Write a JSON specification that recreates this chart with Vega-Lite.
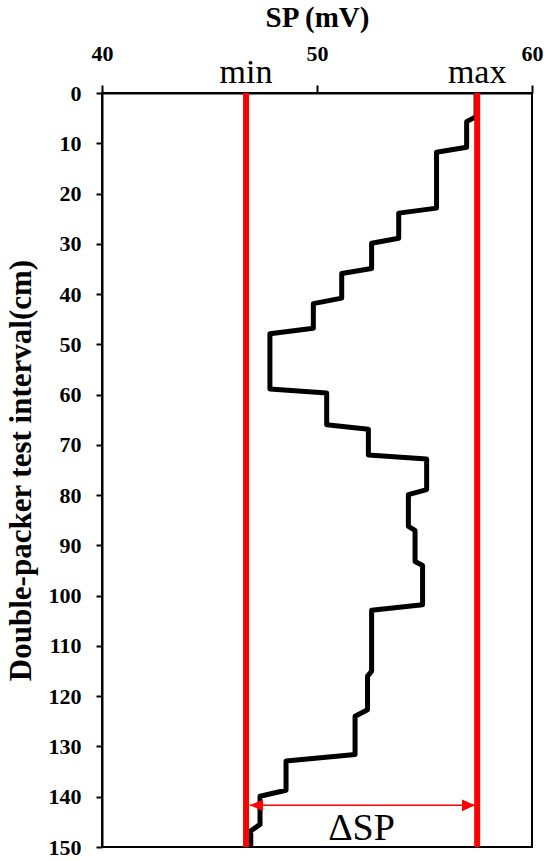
{
  "$schema": "https://vega.github.io/schema/vega-lite/v6.json",
  "autosize": "none",
  "width": 430,
  "height": 754,
  "padding": {"left": 102, "top": 93, "right": 18, "bottom": 14},
  "background": "white",
  "config": {
    "view": {"stroke": "black", "strokeWidth": 2},
    "axis": {
      "domainColor": "black", "domainWidth": 2, "tickColor": "black", "tickWidth": 2,
      "labelColor": "black", "titleColor": "black", "grid": false,
      "labelFont": "Liberation Serif", "labelFontWeight": "bold", "labelFontSize": 22,
      "titleFont": "Liberation Serif", "titleFontWeight": "bold", "titleFontSize": 30
    }
  },
  "datasets": {
    "profile": [
      {"i": 1, "depth": 0, "sp": 57.4},
      {"i": 2, "depth": 4.7, "sp": 57.4},
      {"i": 3, "depth": 5.7, "sp": 56.96},
      {"i": 4, "depth": 10.8, "sp": 56.96},
      {"i": 5, "depth": 11.8, "sp": 55.56},
      {"i": 6, "depth": 22.9, "sp": 55.56},
      {"i": 7, "depth": 23.9, "sp": 53.8},
      {"i": 8, "depth": 28.9, "sp": 53.8},
      {"i": 9, "depth": 29.9, "sp": 52.54},
      {"i": 10, "depth": 34.9, "sp": 52.54},
      {"i": 11, "depth": 35.9, "sp": 51.15},
      {"i": 12, "depth": 40.8, "sp": 51.15},
      {"i": 13, "depth": 41.9, "sp": 49.83},
      {"i": 14, "depth": 46.8, "sp": 49.83},
      {"i": 15, "depth": 47.9, "sp": 47.81},
      {"i": 16, "depth": 58.9, "sp": 47.81},
      {"i": 17, "depth": 59.7, "sp": 50.45},
      {"i": 18, "depth": 66.0, "sp": 50.45},
      {"i": 19, "depth": 66.9, "sp": 52.39},
      {"i": 20, "depth": 72.0, "sp": 52.39},
      {"i": 21, "depth": 72.8, "sp": 55.1},
      {"i": 22, "depth": 78.9, "sp": 55.1},
      {"i": 23, "depth": 79.9, "sp": 54.25},
      {"i": 24, "depth": 86.2, "sp": 54.25},
      {"i": 25, "depth": 87.0, "sp": 54.56},
      {"i": 26, "depth": 93.2, "sp": 54.56},
      {"i": 27, "depth": 94.0, "sp": 54.91},
      {"i": 28, "depth": 101.8, "sp": 54.91},
      {"i": 29, "depth": 102.9, "sp": 52.54},
      {"i": 30, "depth": 115.0, "sp": 52.54},
      {"i": 31, "depth": 116.0, "sp": 52.35},
      {"i": 32, "depth": 122.7, "sp": 52.35},
      {"i": 33, "depth": 124.0, "sp": 51.77},
      {"i": 34, "depth": 131.6, "sp": 51.77},
      {"i": 35, "depth": 132.9, "sp": 48.56},
      {"i": 36, "depth": 138.7, "sp": 48.56},
      {"i": 37, "depth": 139.9, "sp": 47.35},
      {"i": 38, "depth": 145.5, "sp": 47.35},
      {"i": 39, "depth": 146.8, "sp": 46.92},
      {"i": 40, "depth": 150, "sp": 46.92}
    ],
    "bounds": [
      {"label": "min", "sp": 46.7, "depth": 0},
      {"label": "max", "sp": 57.45, "depth": 0}
    ],
    "delta": [
      {"label": "ΔSP", "x1": 46.88, "x2": 57.35, "mid": 52.07, "depth": 141.7, "textDepth": 148.6}
    ]
  },
  "layer": [
    {
      "data": {"name": "profile"},
      "mark": {"type": "line", "color": "black", "strokeWidth": 5, "strokeJoin": "round", "clip": true},
      "encoding": {
        "x": {
          "field": "sp", "type": "quantitative",
          "scale": {"domain": [40, 60], "nice": false, "zero": false},
          "axis": {
            "orient": "top", "title": "SP (mV)", "titleFontSize": 29, "values": [40, 50, 60],
            "tickSize": 8, "labelPadding": 20, "titlePadding": 10, "labelFlush": false
          }
        },
        "y": {
          "field": "depth", "type": "quantitative",
          "scale": {"domain": [0, 150], "reverse": true, "nice": false},
          "axis": {
            "title": "Double-packer test interval(cm)", "titleFontSize": 31, "values": [0,10,20,30,40,50,60,70,80,90,100,110,120,130,140,150],
            "tickSize": 6, "labelPadding": 15, "titlePadding": 11, "labelFlush": false
          }
        },
        "order": {"field": "i", "type": "quantitative"}
      }
    },
    {
      "data": {"name": "bounds"},
      "mark": {"type": "rule", "color": "#ff0000", "strokeWidth": 6},
      "encoding": {"x": {"field": "sp", "type": "quantitative"}}
    },
    {
      "data": {"name": "bounds"},
      "mark": {"type": "text", "font": "Liberation Serif", "fontSize": 34, "baseline": "alphabetic", "align": "center", "dy": -10, "color": "black"},
      "encoding": {
        "x": {"field": "sp", "type": "quantitative"},
        "y": {"field": "depth", "type": "quantitative"},
        "text": {"field": "label"}
      }
    },
    {
      "data": {"name": "delta"},
      "mark": {"type": "rule", "color": "#ff0000", "strokeWidth": 1.5},
      "encoding": {
        "x": {"field": "x1", "type": "quantitative"},
        "x2": {"field": "x2"},
        "y": {"field": "depth", "type": "quantitative"}
      }
    },
    {
      "data": {"name": "delta"},
      "mark": {"type": "point", "shape": "M0,0L2,-0.9L2,0.9Z", "filled": true, "color": "#ff0000", "opacity": 1, "size": 169, "strokeWidth": 0},
      "encoding": {
        "x": {"field": "x1", "type": "quantitative"},
        "y": {"field": "depth", "type": "quantitative"}
      }
    },
    {
      "data": {"name": "delta"},
      "mark": {"type": "point", "shape": "M0,0L-2,-0.9L-2,0.9Z", "filled": true, "color": "#ff0000", "opacity": 1, "size": 169, "strokeWidth": 0},
      "encoding": {
        "x": {"field": "x2", "type": "quantitative"},
        "y": {"field": "depth", "type": "quantitative"}
      }
    },
    {
      "data": {"name": "delta"},
      "mark": {"type": "text", "font": "Liberation Serif", "fontSize": 38, "baseline": "alphabetic", "align": "center", "color": "black"},
      "encoding": {
        "x": {"field": "mid", "type": "quantitative"},
        "y": {"field": "textDepth", "type": "quantitative"},
        "text": {"field": "label"}
      }
    }
  ]
}
